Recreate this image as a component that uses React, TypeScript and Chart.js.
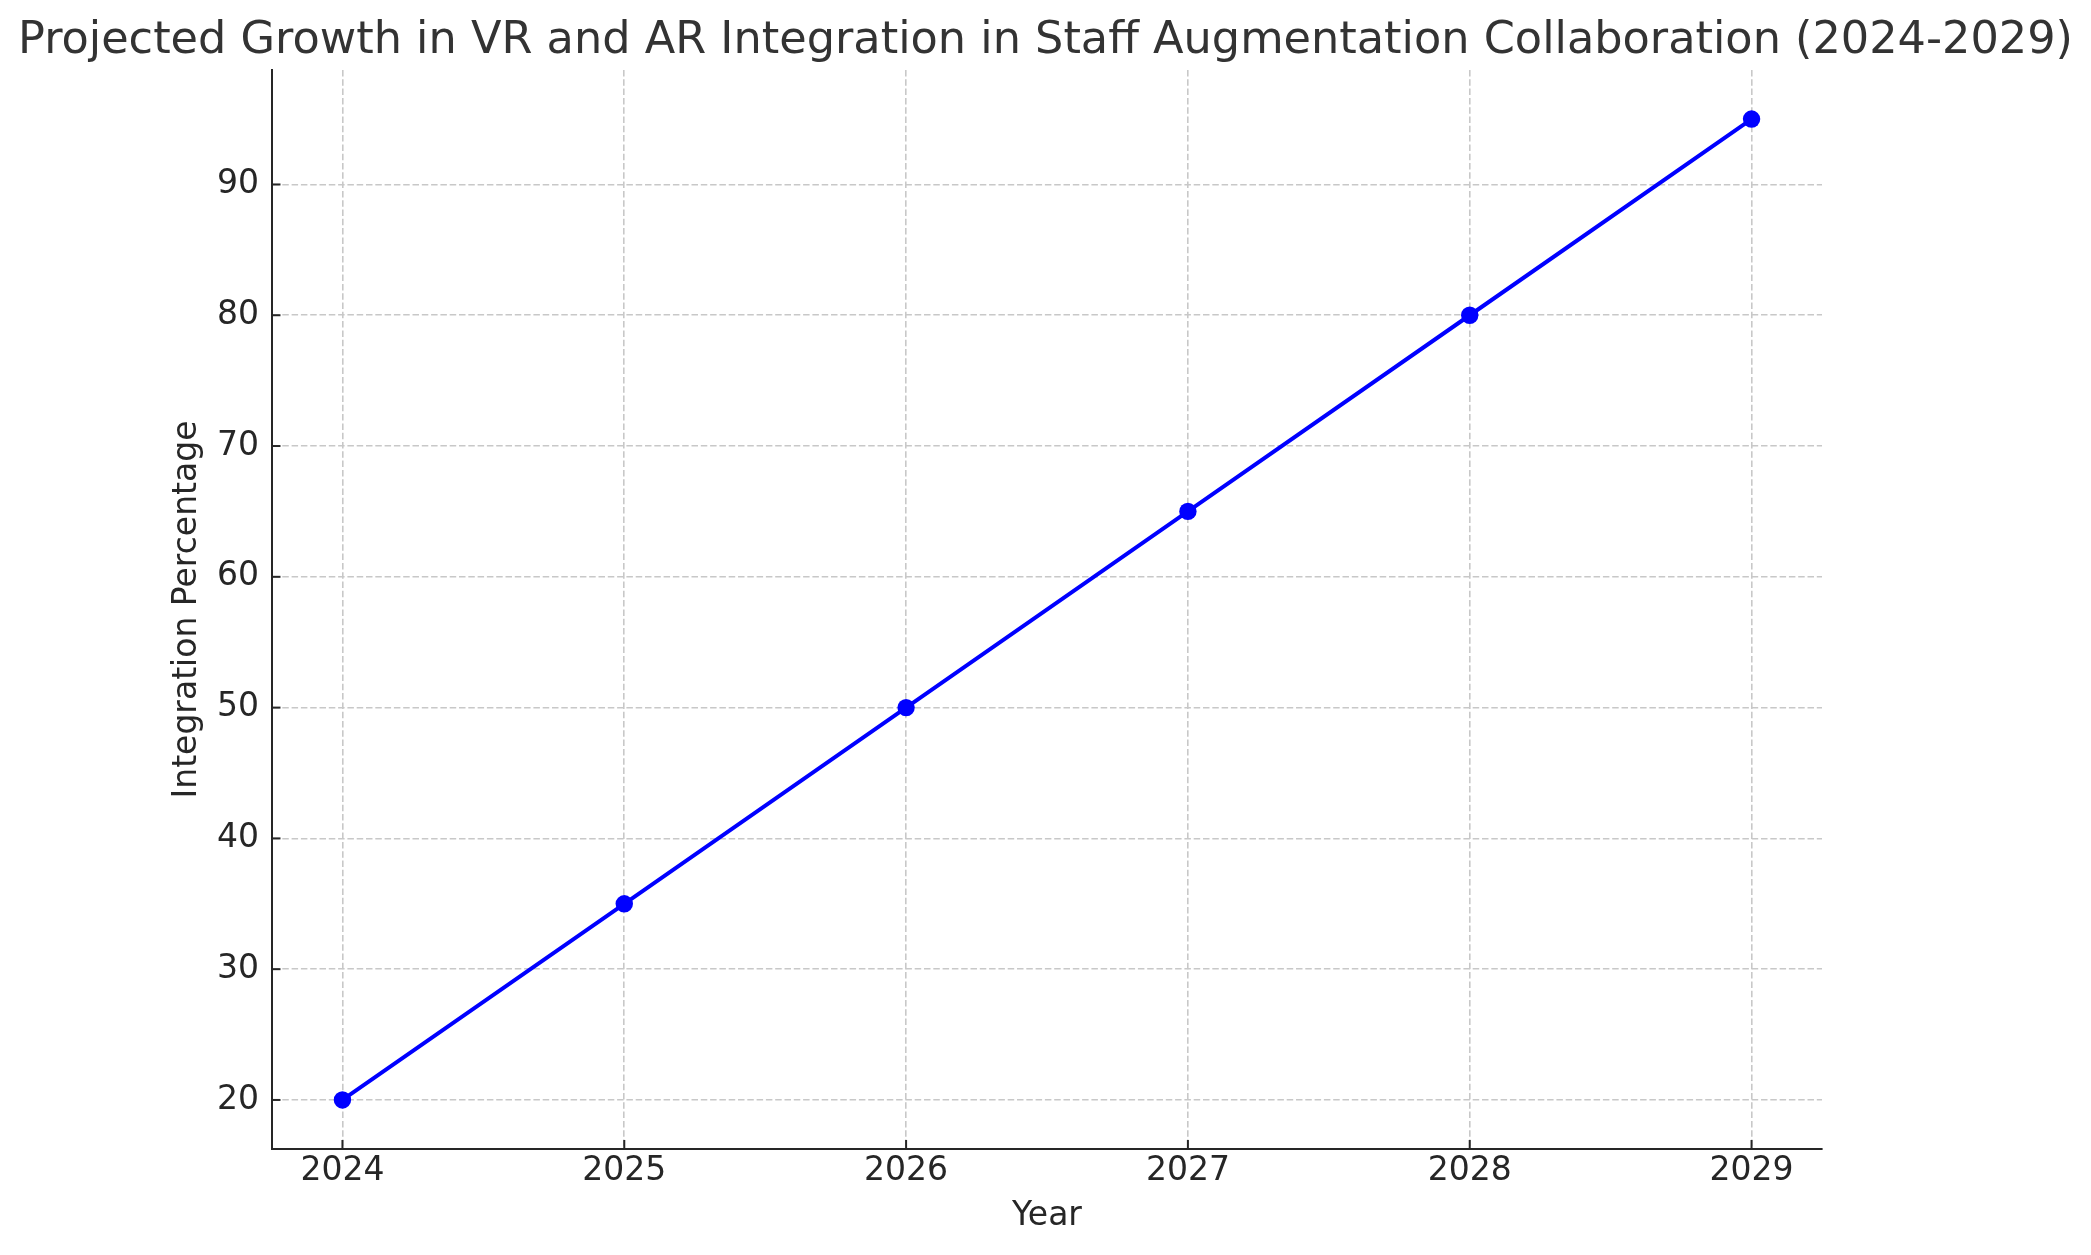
import React, { useEffect, useRef } from "react";
import { Chart, registerables } from "chart.js";

Chart.register(...registerables);

const years = [2024, 2025, 2026, 2027, 2028, 2029];
const integrationPct = [20, 35, 50, 65, 80, 95];
const yTickValues = [20, 30, 40, 50, 60, 70, 80, 90];

const TITLE = "Projected Growth in VR and AR Integration in Staff Augmentation Collaboration (2024-2029)";
const FONT = "'DejaVu Sans', Verdana, sans-serif";

const W = 2091;
const H = 1255;

const inwardTicks = {
  id: "inwardTicks",
  afterDraw(chart: any) {
    const { ctx, chartArea, scales } = chart;
    ctx.save();
    ctx.strokeStyle = "#262626";
    ctx.lineWidth = 2;
    ctx.setLineDash([]);
    for (const t of scales.x.ticks) {
      const px = scales.x.getPixelForValue(t.value);
      ctx.beginPath();
      ctx.moveTo(px, chartArea.bottom);
      ctx.lineTo(px, chartArea.bottom - 9);
      ctx.stroke();
    }
    for (const t of scales.y.ticks) {
      const py = scales.y.getPixelForValue(t.value);
      ctx.beginPath();
      ctx.moveTo(chartArea.left, py);
      ctx.lineTo(chartArea.left + 8.5, py);
      ctx.stroke();
    }
    ctx.restore();
  },
};

export default function App() {
  const ref = useRef<HTMLCanvasElement | null>(null);

  useEffect(() => {
    document.body.style.margin = "0";
    const canvas = ref.current;
    if (!canvas) return;
    const points = years.map((x, i) => ({ x, y: integrationPct[i] }));
    const chart = new Chart(canvas, {
      type: "line",
      data: {
        datasets: [
          {
            data: points,
            borderColor: "#0000ff",
            backgroundColor: "#0000ff",
            borderWidth: 4,
            pointRadius: 8.7,
            pointHoverRadius: 8.7,
            pointBorderWidth: 0,
            tension: 0,
            fill: false,
          },
        ],
      },
      options: {
        responsive: false,
        animation: false,
        devicePixelRatio: 1,
        layout: { padding: 0 },
        plugins: {
          legend: { display: false },
          tooltip: { enabled: false },
          title: {
            display: true,
            text: TITLE,
            color: "#333333",
            font: { family: FONT, size: 44.6, weight: "normal", lineHeight: 1.2 },
            padding: { top: 15, bottom: 1.5 },
          },
        },
        scales: {
          x: {
            type: "linear",
            min: 2023.75,
            max: 2029.25,
            afterBuildTicks: (scale: any) => {
              scale.ticks = years.map((v) => ({ value: v }));
            },
            afterFit: (scale: any) => {
              scale.height = H - 1149;
            },
            ticks: {
              color: "#262626",
              font: { family: FONT, size: 33, lineHeight: 1.2 },
              padding: 3,
              maxRotation: 0,
              autoSkip: false,
              callback: (v: any) => String(v),
            },
            grid: {
              color: "#c8c8c8",
              lineWidth: 1.6,
              drawTicks: false,
            },
            border: { display: true, color: "#262626", width: 2, dash: [6.5, 2.8] },
            title: {
              display: true,
              text: "Year",
              color: "#262626",
              font: { family: FONT, size: 33, lineHeight: 1.2 },
              padding: { top: 0, bottom: 19 },
            },
          },
          y: {
            type: "linear",
            min: 16.25,
            max: 98.75,
            afterBuildTicks: (scale: any) => {
              scale.ticks = yTickValues.map((v) => ({ value: v }));
            },
            afterFit: (scale: any) => {
              scale.width = 272;
            },
            ticks: {
              color: "#262626",
              font: { family: FONT, size: 33, lineHeight: 1.2 },
              padding: 13,
              callback: (v: any) => String(v),
            },
            grid: {
              color: "#c8c8c8",
              lineWidth: 1.6,
              drawTicks: false,
            },
            border: { display: true, color: "#262626", width: 2, dash: [6.5, 2.8] },
            title: {
              display: true,
              text: "Integration Percentage",
              color: "#262626",
              font: { family: FONT, size: 33, lineHeight: 1.2 },
              padding: { top: 168, bottom: 0 },
            },
          },
          spacer: {
            type: "linear",
            position: "right",
            display: true,
            afterFit: (scale: any) => {
              scale.width = W - 1822;
            },
            ticks: { display: false },
            grid: { display: false, drawOnChartArea: false },
            border: { display: false },
          },
        },
      },
      plugins: [inwardTicks],
    } as any);
    return () => chart.destroy();
  }, []);

  return <canvas ref={ref} width={W} height={H} style={{ display: "block", width: W, height: H }} />;
}
